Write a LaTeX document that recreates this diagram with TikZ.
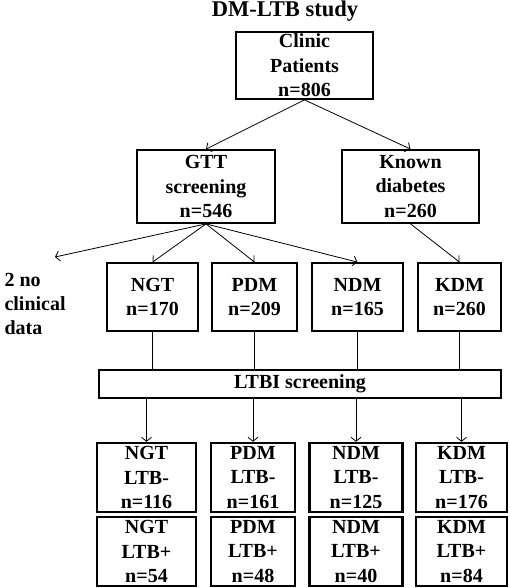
\documentclass[tikz,border=0pt]{standalone}
\usepackage{fontspec}
\setmainfont{Liberation Serif}
\usetikzlibrary{arrows.meta}
\begin{document}
\begin{tikzpicture}[x=1pt,y=-1pt,
 box/.style={draw,line width=1.8pt,inner sep=0pt,align=center,font=\fontsize{20}{24.5}\selectfont\bfseries},
 fbox/.style={box,line width=2.4pt,minimum height=69pt},
 conn/.style={line width=0.8pt},
 arr/.style={conn,-{Straight Barb[length=4pt,width=10pt]}}]
\useasboundingbox (0,0) rectangle (510,588);
\node[font=\fontsize{22.5}{24}\selectfont\bfseries] (title) at (285,11) {DM-LTB study};
\node[box,minimum width=137pt,minimum height=67pt] (clinic) at (304.5,65.5) {Clinic\\Patients\\n=806};
\node[box,minimum width=138pt,minimum height=73pt] (gtt) at (206,186.5) {GTT\\screening\\n=546};
\node[box,minimum width=137pt,minimum height=73pt] (known) at (410.5,186.5) {Known\\diabetes\\n=260};
\node[box,minimum width=91pt,minimum height=68pt] (ngt) at (152.5,297) {NGT\\n=170};
\node[box,minimum width=85pt,minimum height=68pt] (pdm) at (254.5,297) {PDM\\n=209};
\node[box,minimum width=91pt,minimum height=68pt] (ndm) at (357.5,297) {NDM\\n=165};
\node[box,minimum width=83pt,minimum height=68pt] (kdm) at (459.5,297) {KDM\\n=260};
\node[anchor=west,align=left,font=\fontsize{20}{24}\selectfont\bfseries] (nodata) at (1,304) {2 no\\clinical\\data};
\coordinate (lost) at (55,257);
\node[box,minimum width=402pt,minimum height=28pt] (ltbi) at (300,384) {LTBI screening};
\node[fbox,minimum width=99pt] (ngtm) at (146.5,477.5) {NGT\\LTB-\\n=116};
\node[fbox,minimum width=84pt] (pdmm) at (253,477.5) {PDM\\LTB-\\n=161};
\node[fbox,minimum width=93pt] (ndmm) at (356,477.5) {NDM\\LTB-\\n=125};
\node[fbox,minimum width=91pt] (kdmm) at (461.5,477.5) {KDM\\LTB-\\n=176};
\node[fbox,minimum width=99pt] (ngtp) at (146.5,551.5) {NGT\\LTB+\\n=54};
\node[fbox,minimum width=84pt] (pdmp) at (253,551.5) {PDM\\LTB+\\n=48};
\node[fbox,minimum width=93pt] (ndmp) at (356,551.5) {NDM\\LTB+\\n=40};
\node[fbox,minimum width=91pt] (kdmp) at (461.5,551.5) {KDM\\LTB+\\n=84};
\draw[arr] (clinic.south) -- (gtt.north);
\draw[arr] (clinic.south) -- (known.north);
\draw[arr] (gtt.south) -- (lost);
\draw[arr] (gtt.south) -- (ngt.north);
\draw[arr] (gtt.south) -- (pdm.north);
\draw[arr] (gtt.south) -- (ndm.north);
\draw[arr] (known.south) -- (kdm.north);
\foreach \n in {ngt,pdm,ndm,kdm}
  \draw[conn] (\n.south) -- (\n.south |- ltbi.north);
\foreach \n in {ngtm,pdmm,ndmm,kdmm}
  \draw[arr] (ltbi.south -| \n.north) -- (\n.north);
\end{tikzpicture}
\end{document}
